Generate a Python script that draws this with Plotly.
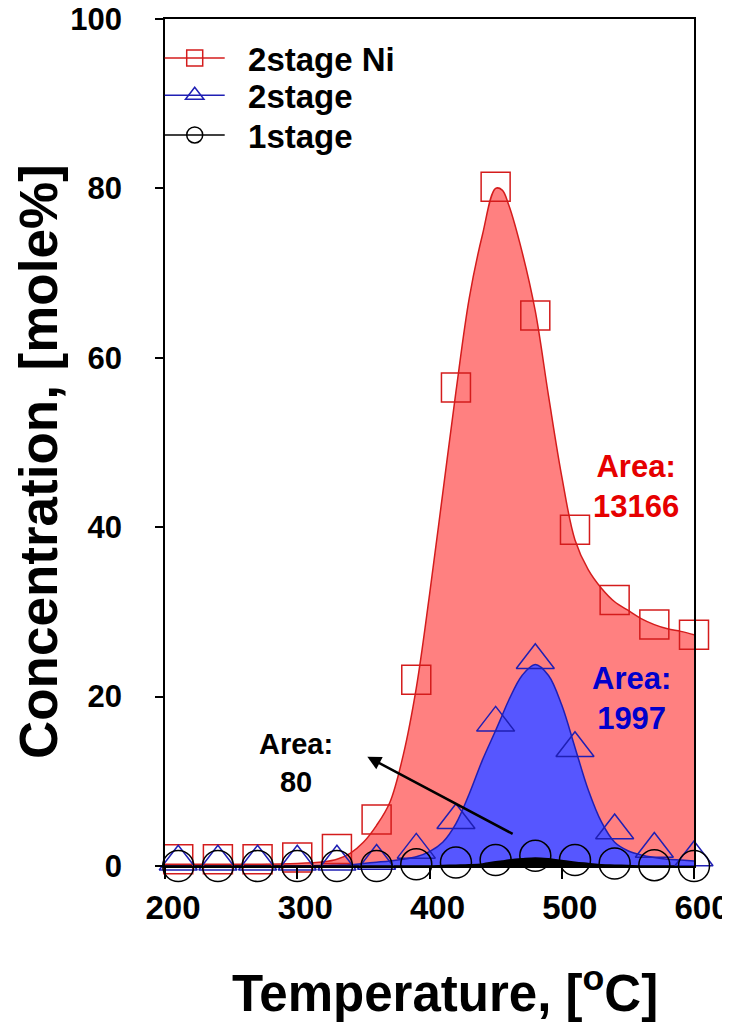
import plotly.graph_objects as go

# ---- measured points (markers) ----
temp_pts = [210, 240, 270, 300, 330, 360, 390, 420, 450, 480, 510, 540, 570, 600]
ni_2stage = [0.8, 0.8, 0.8, 1.0, 2.0, 5.5, 22.0, 56.5, 80.2, 65.0, 39.7, 31.4, 28.5, 27.3]
two_stage = [0.5, 0.5, 0.5, 0.5, 0.5, 0.6, 1.9, 5.4, 16.9, 24.3, 13.9, 4.2, 2.0, 1.0]
one_stage = [0.0, 0.0, 0.0, 0.0, 0.0, 0.0, 0.2, 0.4, 0.7, 1.2, 0.7, 0.3, 0.1, 0.0]

# ---- fitted curves ----
curve_t = [200, 250, 300, 320, 330, 340, 350, 360, 370, 380, 390, 400, 410, 420,
           430, 440, 450, 455, 460, 470, 480, 490, 500, 510, 520, 530, 540, 550,
           560, 570, 580, 590, 600]
ni_curve = [0.2, 0.2, 0.3, 0.5, 0.8, 1.5, 2.8, 4.8, 7.5, 13.0, 21.0, 32.0, 44.0, 56.0,
            67.0, 74.5, 80.0, 79.8, 78.0, 72.5, 65.5, 55.5, 46.0, 38.5, 35.0, 32.8, 31.2, 30.2,
            29.2, 28.5, 28.0, 27.7, 27.3]
two_curve = [0.0, 0.0, 0.0, 0.05, 0.1, 0.15, 0.3, 0.45, 0.6, 0.8, 1.1, 1.7, 2.8, 5.0,
             8.5, 12.5, 16.0, 17.8, 19.6, 22.5, 23.8, 22.5, 19.0, 14.0, 9.0, 5.2, 2.8, 1.8,
             1.3, 1.0, 0.8, 0.7, 0.6]
one_curve = [0.0, 0.0, 0.0, 0.0, 0.0, 0.0, 0.0, 0.0, 0.0, 0.0, 0.0, 0.0, 0.05, 0.1,
             0.15, 0.25, 0.5, 0.6, 0.7, 0.85, 0.95, 0.85, 0.65, 0.45, 0.3, 0.15, 0.1, 0.05,
             0.0, 0.0, 0.0, 0.0, 0.0]

series_names = ["2stage Ni", "2stage", "1stage"]

RED_LINE = "#d41c1c"
RED_FILL = "#ff8080"
BLUE_LINE = "#1f1fb4"
BLUE_FILL = "#5656ff"
FONT = "Liberation Sans, Arial, sans-serif"

fig = go.Figure()

# filled curves
fig.add_trace(go.Scatter(x=curve_t, y=ni_curve, mode="lines", line=dict(color=RED_LINE, width=1.5, shape="spline"),
                         fill="tozeroy", fillcolor=RED_FILL, showlegend=False, hoverinfo="skip"))
fig.add_trace(go.Scatter(x=curve_t, y=two_curve, mode="lines", line=dict(color=BLUE_LINE, width=1.5, shape="spline"),
                         fill="tozeroy", fillcolor=BLUE_FILL, showlegend=False, hoverinfo="skip"))
fig.add_trace(go.Scatter(x=curve_t, y=one_curve, mode="lines", line=dict(color="black", width=1.5, shape="spline"),
                         fill="tozeroy", fillcolor="black", showlegend=False, hoverinfo="skip"))

# markers
fig.add_trace(go.Scatter(x=temp_pts, y=ni_2stage, mode="markers", name=series_names[0], cliponaxis=False,
                         marker=dict(symbol="square-open", size=29, color=RED_LINE, line=dict(width=1.5)),
                         showlegend=False))
fig.add_trace(go.Scatter(x=temp_pts, y=two_stage, mode="markers", name=series_names[1], cliponaxis=False,
                         marker=dict(symbol="triangle-up-open", size=33, color=BLUE_LINE, line=dict(width=1.5)),
                         showlegend=False))
fig.add_trace(go.Scatter(x=temp_pts, y=one_stage, mode="markers", name=series_names[2], cliponaxis=False,
                         marker=dict(symbol="circle-open", size=31, color="black", line=dict(width=1.5)),
                         showlegend=False))

# legend entries (symbol with line through it), one legend box each
legend_y = [0.954, 0.910, 0.863]
legend_ids = ["legend", "legend2", "legend3"]
legend_style = [("square-open", RED_LINE, 29), ("triangle-up-open", BLUE_LINE, 31), ("circle-open", "black", 30)]
for name, (sym, col, sz), lid in zip(series_names, legend_style, legend_ids):
    fig.add_trace(go.Scatter(x=[None], y=[None], mode="lines+markers", name="\u00a0\u00a0" + name, legend=lid,
                             line=dict(color=col, width=1.5),
                             marker=dict(symbol=sym, size=sz, color=col, line=dict(width=1.5))))

legend_common = dict(
    xanchor="left", yanchor="middle",
    bgcolor="rgba(0,0,0,0)",
    font=dict(family=FONT, size=33, color="black", weight="bold"),
    itemwidth=60,
)

# text annotations
fig.add_annotation(x=556, y=44.8, text="<b>Area:<br>13166</b>", showarrow=False,
                   font=dict(family=FONT, size=31, color="#e60000"))
fig.add_annotation(x=553, y=19.8, text="<b>Area:<br>1997</b>", showarrow=False,
                   font=dict(family=FONT, size=31, color="#0000cc"))
fig.add_annotation(x=299, y=12.2, text="<b>Area:<br>80</b>", showarrow=False,
                   font=dict(family=FONT, size=29, color="black"))
fig.add_annotation(x=353, y=12.9, ax=464, ay=3.7, axref="x", ayref="y",
                   text="", showarrow=True, arrowhead=2, arrowsize=1.1, arrowwidth=2.5, arrowcolor="black")

# axis titles
fig.add_annotation(xref="paper", yref="paper", x=0.529, y=-0.146, xanchor="center", yanchor="middle",
                   text="Temperature, [<sup>o</sup>C]", showarrow=False,
                   font=dict(family=FONT, size=51, color="black", weight="bold"))
fig.add_annotation(xref="paper", yref="paper", x=-0.238, y=0.477, xanchor="center", yanchor="middle",
                   text="Concentration, [mole%]", textangle=-90, showarrow=False,
                   font=dict(family=FONT, size=53, color="black", weight="bold"))

fig.update_layout(
    width=730,
    height=1033,
    paper_bgcolor="white",
    plot_bgcolor="white",
    # the page body adds an 8px offset, so the plot box lands at x 165-694, y 19-866
    margin=dict(l=157, r=44, t=11, b=175, autoexpand=False),
    font=dict(family=FONT, color="black"),
    legend=dict(x=-0.010, y=legend_y[0], **legend_common),
    legend2=dict(x=-0.010, y=legend_y[1], **legend_common),
    legend3=dict(x=-0.010, y=legend_y[2], **legend_common),
    xaxis=dict(
        range=[200, 600],
        tickmode="array",
        tickvals=[200, 300, 400, 500, 600],
        ticks="outside",
        ticklen=11,
        tickwidth=1.5,
        tickcolor="black",
        ticklabelshift=8,
        ticklabeloverflow="allow",
        showline=True,
        linecolor="black",
        linewidth=1.8,
        mirror=True,
        showgrid=False,
        zeroline=False,
        automargin=False,
        tickfont=dict(family=FONT, size=33, weight="bold"),
    ),
    yaxis=dict(
        range=[0, 100],
        tickmode="array",
        tickvals=[0, 20, 40, 60, 80, 100],
        ticks="outside",
        ticklen=8,
        tickwidth=1.5,
        tickcolor="black",
        ticklabelstandoff=27,
        ticklabeloverflow="allow",
        showline=True,
        linecolor="black",
        linewidth=1.8,
        mirror=True,
        showgrid=False,
        zeroline=False,
        automargin=False,
        tickfont=dict(family=FONT, size=31, weight="bold"),
    ),
)

fig.write_html("out.html")
